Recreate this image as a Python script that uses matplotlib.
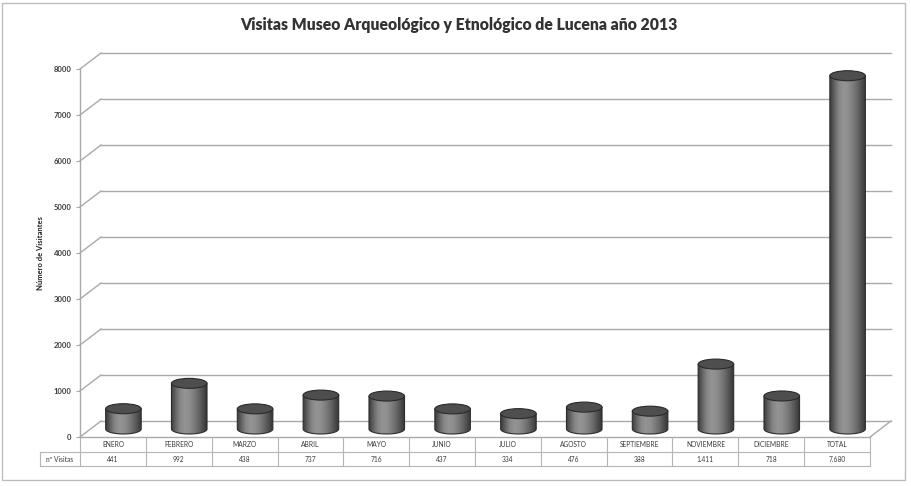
import matplotlib
matplotlib.use("Agg")
import matplotlib.pyplot as plt
import numpy as np
from matplotlib.patches import Ellipse, PathPatch, Rectangle
from matplotlib.path import Path

plt.rcParams['font.family'] = ['Lato', 'DejaVu Sans']

months = ['ENERO', 'FEBRERO', 'MARZO', 'ABRIL', 'MAYO', 'JUNIO', 'JULIO',
          'AGOSTO', 'SEPTIEMBRE', 'NOVIEMBRE', 'DICIEMBRE', 'TOTAL']
visits = [441, 992, 438, 737, 716, 437, 334, 476, 388, 1411, 718, 7680]
visit_labels = ['441', '992', '438', '737', '716', '437', '334', '476',
                '388', '1.411', '718', '7.680']
y_ticks = [0, 1000, 2000, 3000, 4000, 5000, 6000, 7000, 8000]

grid_grey = '#a9a9a9'
text_grey = '#3a3a3a'

W, H = 911, 486
fig = plt.figure(figsize=(W / 100, H / 100), dpi=100)
fig.patch.set_facecolor('white')

# front plot area in pixels: x 80..870, y(0)=437, y(8000)=69
ax = fig.add_axes([80 / W, (H - 437) / H, 790 / W, 368 / H])
ax.set_xlim(-0.5, len(months) - 0.5)
ax.set_ylim(0, 8000)
ax.set_facecolor('none')

# depth of the fake 3d box, in data units
px_x = len(months) / 790.0
px_y = 8000 / 368.0
dx = 21 * px_x
dy = 16 * px_y

x0, x1 = -0.5, len(months) - 0.5
for t in y_ticks:
    ax.plot([x0 + dx, x1 + dx], [t + dy, t + dy], color=grid_grey, lw=1.0,
            clip_on=False, zorder=1)
    ax.plot([x0, x0 + dx], [t, t + dy], color=grid_grey, lw=1.0,
            clip_on=False, zorder=1)
# right edge of the floor
ax.plot([x1, x1 + dx], [0, dy], color=grid_grey, lw=1.0, clip_on=False, zorder=1)

for s in ['top', 'right', 'bottom']:
    ax.spines[s].set_visible(False)
ax.spines['left'].set_color(grid_grey)
ax.spines['left'].set_linewidth(1.0)
ax.set_xticks([])
ax.set_yticks(y_ticks)
ax.set_yticklabels([str(t) for t in y_ticks], fontsize=5.5, color=text_grey,
                   fontweight='bold')
ax.tick_params(axis='y', length=3, color=grid_grey, pad=3)
ax.set_ylabel('Número de Visitantes', fontsize=5.5, fontweight='bold',
              color='#222222', labelpad=7)

# cylinders
bar_w = 0.54
ell_h = 10 * px_y
grad = np.array([0.24, 0.40, 0.53, 0.58, 0.56, 0.50, 0.42, 0.32, 0.21])
grad = np.interp(np.linspace(0, 1, 64), np.linspace(0, 1, len(grad)), grad)
for i, v in enumerate(visits):
    xc = i + dx / 2
    yb = dy / 2
    left, right = xc - bar_w / 2, xc + bar_w / 2
    # outline: body plus lower half ellipse
    theta = np.linspace(np.pi, 2 * np.pi, 40)
    bottom = np.column_stack([xc + bar_w / 2 * np.cos(theta),
                              yb + ell_h / 2 * np.sin(theta)])
    verts = np.vstack([[[left, yb + v]], bottom, [[right, yb + v]], [[left, yb + v]]])
    path = Path(verts)
    body = PathPatch(path, facecolor='none', edgecolor='#2e2e2e', lw=0.8,
                     zorder=3, clip_on=False)
    ax.add_patch(body)
    im = ax.imshow(grad[np.newaxis, :], cmap='gray', vmin=0, vmax=1,
                   extent=[left, right, yb - ell_h, yb + v], aspect='auto',
                   zorder=2, interpolation='bilinear')
    im.set_clip_path(body)
    top = Ellipse((xc, yb + v), bar_w, ell_h, facecolor='#4e4e4e',
                  edgecolor='#2a2a2a', lw=0.8, zorder=4, clip_on=False)
    ax.add_patch(top)

ax.set_xlim(-0.5, len(months) - 0.5)
ax.set_ylim(0, 8000)

# data table under the plot
tr = ax.get_xaxis_transform()
r1 = -15 / 368.0
r2 = -29 / 368.0
row_head_left = -0.5 - 40 * px_x
line_kw = dict(color='#b5b5b5', lw=0.8, transform=tr, clip_on=False)
ax.plot([x0, x1], [0, 0], color=grid_grey, lw=1.0, transform=tr, clip_on=False)
ax.plot([row_head_left, x1], [r1, r1], **line_kw)
ax.plot([row_head_left, x1], [r2, r2], **line_kw)
ax.plot([row_head_left, row_head_left], [r1, r2], **line_kw)
for k in range(len(months) + 1):
    ax.plot([k - 0.5, k - 0.5], [0, r2], **line_kw)
for i, (m, lab) in enumerate(zip(months, visit_labels)):
    ax.text(i, r1 / 2, m, transform=tr, ha='center', va='center',
            fontsize=4.8, color=text_grey)
    ax.text(i, (r1 + r2) / 2, lab, transform=tr, ha='center', va='center',
            fontsize=4.8, color=text_grey)
ax.text((row_head_left + x0) / 2, (r1 + r2) / 2, 'nº Visitas', transform=tr,
        ha='center', va='center', fontsize=4.8, color=text_grey)

fig.text(459 / W, 1 - 25 / H, 'Visitas Museo Arqueológico y Etnológico de Lucena año 2013',
         ha='center', va='center', fontsize=11.3, fontweight='heavy', color='#333333')

# chart frame
fig.add_artist(Rectangle((2 / W, 6 / H), 903 / W, 477 / H, transform=fig.transFigure,
                         fill=False, edgecolor='#bdbdbd', lw=1.0))

fig.savefig('out.png', dpi=100)
